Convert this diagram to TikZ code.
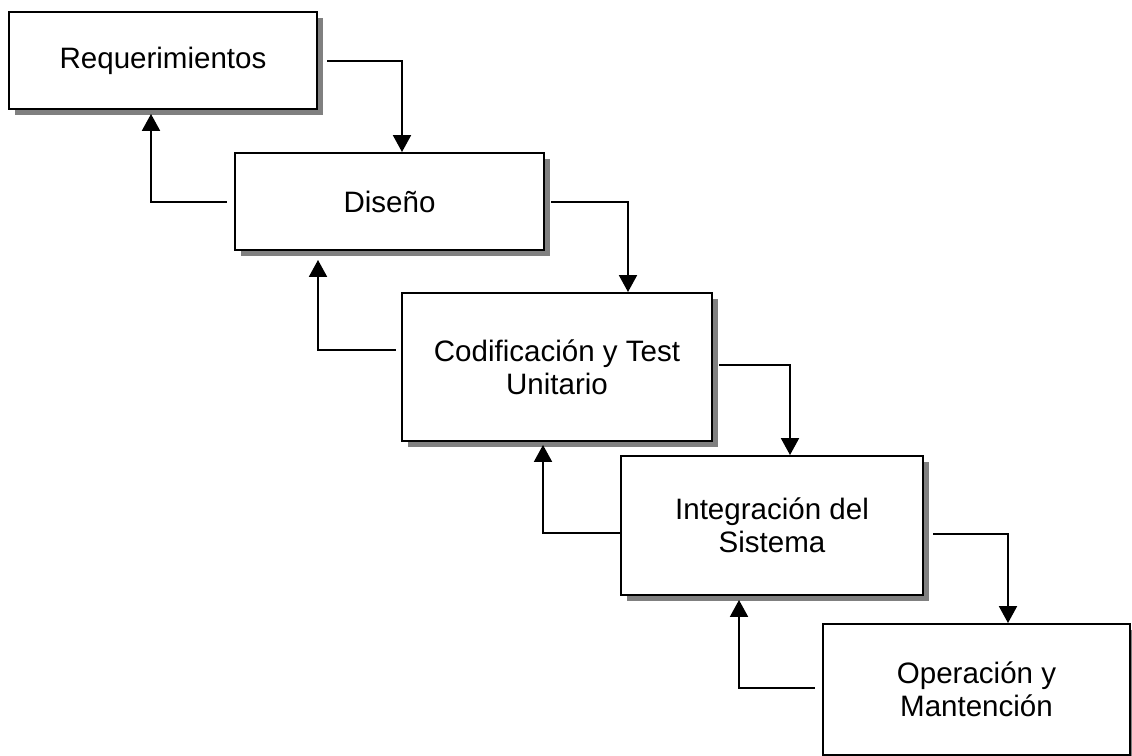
\documentclass[tikz,border=0pt]{standalone}
\usepackage{fontspec}
\setmainfont{Liberation Sans}
\usetikzlibrary{arrows.meta}
\usetikzlibrary{shadows}
\usetikzlibrary{calc}

\tikzset{
	caja/.style={draw, line width=1.4pt, fill=white, align=center, inner sep=0pt,
		font=\fontsize{21}{23.5}\selectfont,
		drop shadow={shadow xshift=0.15cm, shadow yshift=-0.15cm, fill=black!50, opacity=1}},
	flecha/.style={line width=1.1pt, -{Triangle[width=0.45cm, length=0.42cm]}}
}

\begin{document}
\begin{tikzpicture}[x=0.025cm, y=-0.025cm]
					\path[use as bounding box, fill=white] (0,0) rectangle (1132,756);
					% draw stages
					\node[caja, minimum width=7.7cm, minimum height=2.425cm] (req) at (163,60.5) {Requerimientos};
					\node[caja, minimum width=7.725cm, minimum height=2.425cm] (dis) at (389.5,201.5) {Diseño};
					\node[caja, minimum width=7.75cm, minimum height=3.7cm] (cod) at (557,367) {Codificación y Test\\Unitario};
					\node[caja, minimum width=7.55cm, minimum height=3.475cm] (int) at (772,525.5) {Integración del\\Sistema};
					\node[caja, minimum width=7.675cm, minimum height=3.275cm] (ope) at (976.5,689.5) {Operación y\\Mantención};
					
					% forward arrows
					\draw[flecha] ($(req.east)+(9,0.5)$) -| ($(dis.north)+(12.5,0)$);
					\draw[flecha] ($(dis.east)+(6,0.5)$) -| ($(cod.north)+(71,0)$);
					\draw[flecha] ($(cod.east)+(6,-2)$) -| ($(int.north)+(18,0)$);
					\draw[flecha] ($(int.east)+(9,8.5)$) -| ($(ope.north)+(31.5,0)$);
					
					% back arrows
					\draw[flecha] ($(dis.west)+(-7,0.5)$) -| ($(req.south)+(-12,4)$);
					\draw[flecha] ($(cod.west)+(-5,-17)$) -| ($(dis.south)+(-71.5,9)$);
					\draw[flecha] ($(int.west)+(0,7.5)$) -| ($(cod.south)+(-14,3)$);
					\draw[flecha] ($(ope.west)+(-7,-1.5)$) -| ($(int.south)+(-33,4)$);
				\end{tikzpicture}
\end{document}
